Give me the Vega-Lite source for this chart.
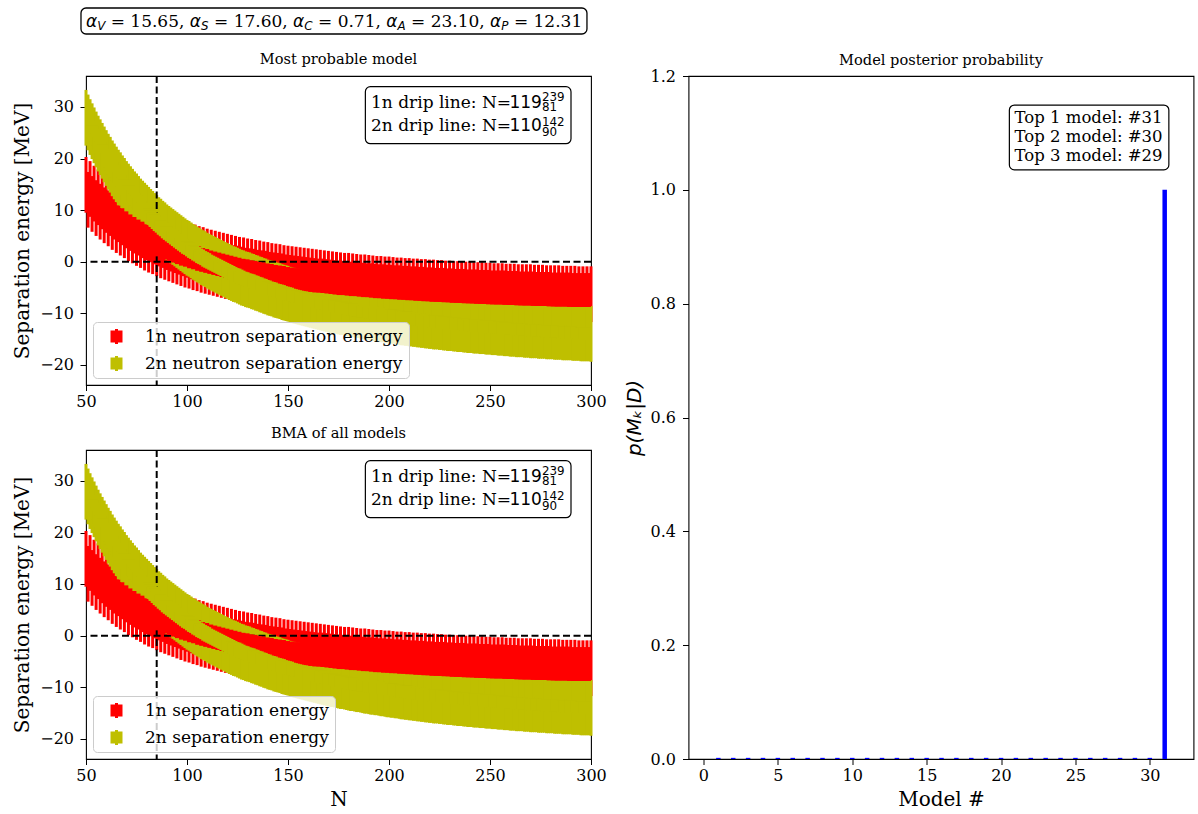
{
  "$schema": "https://vega.github.io/schema/vega-lite/v6.json",
  "background": "white",
  "padding": {"left": 12, "top": 6, "right": 1, "bottom": 4},
  "config": {
    "font": "DejaVu Serif",
    "view": {"stroke": "black", "strokeWidth": 1.1},
    "axis": {"domain": false, "grid": false, "tickColor": "black", "tickWidth": 1, "labelFont": "DejaVu Serif", "labelFontSize": 16, "labelColor": "black", "labelOverlap": false, "titleFont": "DejaVu Serif", "titleFontSize": 20, "titleFontWeight": "normal", "titleColor": "black"},
    "axisY": {"titlePadding": 7, "tickSize": 6, "labelPadding": 6.5},
    "axisX": {"titlePadding": 6, "tickSize": 5.5, "labelPadding": 3, "labelFlush": false},
    "title": {"font": "DejaVu Serif", "fontSize": 14.6, "fontWeight": "normal", "color": "black", "offset": 8},
    "legend": {"orient": "bottom-left", "offset": 7, "padding": 6, "fillColor": "rgba(255,255,255,0.8)", "strokeColor": "#cccccc", "strokeWidth": 1, "cornerRadius": 4, "labelFont": "DejaVu Serif", "labelFontSize": 17, "labelColor": "black", "labelLimit": 400, "symbolType": "M-0.8,-0.8H0.8V0.8H-0.8Z M-0.2,-1H0.2V1H-0.2Z", "symbolSize": 225, "symbolStrokeWidth": 0, "symbolOffset": 9, "labelOffset": 20, "rowPadding": 9}
  },
  "datasets": {
    "sep": [
      {"N":50,"a":14.9,"b":27.9,"e":5.4},{"N":51,"a":12.0,"b":27.0,"e":5.4},{"N":52,"a":14.1,"b":26.1,"e":5.4},{"N":53,"a":11.2,"b":25.3,"e":5.4},{"N":54,"a":13.2,"b":24.5,"e":5.4},
      {"N":55,"a":10.4,"b":23.7,"e":5.4},{"N":56,"a":12.5,"b":22.9,"e":5.4},{"N":57,"a":9.7,"b":22.2,"e":5.4},{"N":58,"a":11.7,"b":21.5,"e":5.4},{"N":59,"a":9.0,"b":20.8,"e":5.4},
      {"N":60,"a":11.0,"b":20.1,"e":5.4},{"N":61,"a":8.4,"b":19.4,"e":5.4},{"N":62,"a":10.4,"b":18.8,"e":5.4},{"N":63,"a":7.7,"b":18.1,"e":5.4},{"N":64,"a":9.7,"b":17.5,"e":5.4},
      {"N":65,"a":7.1,"b":16.9,"e":5.4},{"N":66,"a":9.2,"b":16.3,"e":5.4},{"N":67,"a":6.6,"b":15.8,"e":5.4},{"N":68,"a":8.6,"b":15.2,"e":5.4},{"N":69,"a":6.1,"b":14.7,"e":5.4},
      {"N":70,"a":8.0,"b":14.1,"e":5.4},{"N":71,"a":5.5,"b":13.6,"e":5.4},{"N":72,"a":7.5,"b":13.1,"e":5.4},{"N":73,"a":5.1,"b":12.6,"e":5.4},{"N":74,"a":7.0,"b":12.1,"e":5.4},
      {"N":75,"a":4.6,"b":11.7,"e":5.4},{"N":76,"a":6.6,"b":11.2,"e":5.4},{"N":77,"a":4.2,"b":10.7,"e":5.4},{"N":78,"a":6.1,"b":10.3,"e":5.4},{"N":79,"a":3.7,"b":9.9,"e":5.4},
      {"N":80,"a":5.7,"b":9.5,"e":5.4},{"N":81,"a":3.3,"b":9.1,"e":5.4},{"N":82,"a":5.3,"b":8.7,"e":5.4},{"N":83,"a":3.0,"b":8.3,"e":5.4},{"N":84,"a":4.9,"b":7.9,"e":5.4},
      {"N":85,"a":2.6,"b":7.5,"e":5.4},{"N":86,"a":4.5,"b":7.1,"e":5.4},{"N":87,"a":2.2,"b":6.8,"e":5.4},{"N":88,"a":4.2,"b":6.4,"e":5.4},{"N":89,"a":1.9,"b":6.1,"e":5.4},
      {"N":90,"a":3.8,"b":5.7,"e":5.4},{"N":91,"a":1.6,"b":5.4,"e":5.4},{"N":92,"a":3.5,"b":5.1,"e":5.4},{"N":93,"a":1.3,"b":4.8,"e":5.4},{"N":94,"a":3.2,"b":4.5,"e":5.4},
      {"N":95,"a":1.0,"b":4.2,"e":5.4},{"N":96,"a":2.9,"b":3.9,"e":5.4},{"N":97,"a":0.7,"b":3.6,"e":5.4},{"N":98,"a":2.6,"b":3.3,"e":5.4},{"N":99,"a":0.4,"b":3.0,"e":5.4},
      {"N":100,"a":2.3,"b":2.7,"e":5.4},{"N":101,"a":0.2,"b":2.5,"e":5.4},{"N":102,"a":2.0,"b":2.2,"e":5.4},{"N":103,"a":-0.1,"b":1.9,"e":5.4},{"N":104,"a":1.8,"b":1.7,"e":5.4},
      {"N":105,"a":-0.3,"b":1.4,"e":5.4},{"N":106,"a":1.5,"b":1.2,"e":5.4},{"N":107,"a":-0.6,"b":0.9,"e":5.4},{"N":108,"a":1.3,"b":0.7,"e":5.4},{"N":109,"a":-0.8,"b":0.5,"e":5.4},
      {"N":110,"a":1.0,"b":0.2,"e":5.4},{"N":111,"a":-1.0,"b":0.0,"e":5.4},{"N":112,"a":0.8,"b":-0.2,"e":5.4},{"N":113,"a":-1.2,"b":-0.4,"e":5.4},{"N":114,"a":0.6,"b":-0.6,"e":5.4},
      {"N":115,"a":-1.4,"b":-0.8,"e":5.4},{"N":116,"a":0.4,"b":-1.0,"e":5.4},{"N":117,"a":-1.6,"b":-1.2,"e":5.4},{"N":118,"a":0.2,"b":-1.4,"e":5.4},{"N":119,"a":-1.8,"b":-1.6,"e":5.4},
      {"N":120,"a":0.0,"b":-1.8,"e":5.4},{"N":121,"a":-2.0,"b":-2.0,"e":5.4},{"N":122,"a":-0.2,"b":-2.2,"e":5.4},{"N":123,"a":-2.2,"b":-2.4,"e":5.4},{"N":124,"a":-0.4,"b":-2.5,"e":5.4},
      {"N":125,"a":-2.3,"b":-2.7,"e":5.4},{"N":126,"a":-0.6,"b":-2.9,"e":5.4},{"N":127,"a":-2.5,"b":-3.1,"e":5.4},{"N":128,"a":-0.7,"b":-3.2,"e":5.4},{"N":129,"a":-2.7,"b":-3.4,"e":5.4},
      {"N":130,"a":-0.9,"b":-3.5,"e":5.4},{"N":131,"a":-2.8,"b":-3.6,"e":5.4},{"N":132,"a":-1.0,"b":-3.8,"e":5.4},{"N":133,"a":-2.9,"b":-3.9,"e":5.4},{"N":134,"a":-1.2,"b":-4.1,"e":5.4},
      {"N":135,"a":-3.1,"b":-4.2,"e":5.4},{"N":136,"a":-1.3,"b":-4.4,"e":5.4},{"N":137,"a":-3.2,"b":-4.5,"e":5.4},{"N":138,"a":-1.5,"b":-4.7,"e":5.4},{"N":139,"a":-3.3,"b":-4.8,"e":5.4},
      {"N":140,"a":-1.6,"b":-5.0,"e":5.4},{"N":141,"a":-3.5,"b":-5.1,"e":5.4},{"N":142,"a":-1.8,"b":-5.2,"e":5.4},{"N":143,"a":-3.6,"b":-5.4,"e":5.4},{"N":144,"a":-1.9,"b":-5.5,"e":5.4},
      {"N":145,"a":-3.7,"b":-5.6,"e":5.4},{"N":146,"a":-2.0,"b":-5.7,"e":5.4},{"N":147,"a":-3.8,"b":-5.9,"e":5.4},{"N":148,"a":-2.2,"b":-6.0,"e":5.4},{"N":149,"a":-4.0,"b":-6.1,"e":5.4},
      {"N":150,"a":-2.3,"b":-6.2,"e":5.4},{"N":151,"a":-4.1,"b":-6.4,"e":5.4},{"N":152,"a":-2.4,"b":-6.5,"e":5.4},{"N":153,"a":-4.2,"b":-6.6,"e":5.4},{"N":154,"a":-2.5,"b":-6.7,"e":5.4},
      {"N":155,"a":-4.3,"b":-6.8,"e":5.4},{"N":156,"a":-2.6,"b":-6.9,"e":5.4},{"N":157,"a":-4.4,"b":-7.0,"e":5.4},{"N":158,"a":-2.7,"b":-7.1,"e":5.4},{"N":159,"a":-4.5,"b":-7.2,"e":5.4},
      {"N":160,"a":-2.8,"b":-7.3,"e":5.4},{"N":161,"a":-4.6,"b":-7.4,"e":5.4},{"N":162,"a":-2.9,"b":-7.5,"e":5.4},{"N":163,"a":-4.7,"b":-7.6,"e":5.4},{"N":164,"a":-3.0,"b":-7.7,"e":5.4},
      {"N":165,"a":-4.8,"b":-7.8,"e":5.4},{"N":166,"a":-3.1,"b":-7.9,"e":5.4},{"N":167,"a":-4.8,"b":-8.0,"e":5.4},{"N":168,"a":-3.2,"b":-8.1,"e":5.4},{"N":169,"a":-4.9,"b":-8.2,"e":5.4},
      {"N":170,"a":-3.3,"b":-8.3,"e":5.4},{"N":171,"a":-5.0,"b":-8.4,"e":5.4},{"N":172,"a":-3.4,"b":-8.4,"e":5.4},{"N":173,"a":-5.1,"b":-8.5,"e":5.4},{"N":174,"a":-3.5,"b":-8.6,"e":5.4},
      {"N":175,"a":-5.2,"b":-8.7,"e":5.4},{"N":176,"a":-3.6,"b":-8.8,"e":5.4},{"N":177,"a":-5.3,"b":-8.8,"e":5.4},{"N":178,"a":-3.7,"b":-8.9,"e":5.4},{"N":179,"a":-5.3,"b":-9.0,"e":5.4},
      {"N":180,"a":-3.7,"b":-9.1,"e":5.4},{"N":181,"a":-5.4,"b":-9.2,"e":5.4},{"N":182,"a":-3.8,"b":-9.2,"e":5.4},{"N":183,"a":-5.5,"b":-9.3,"e":5.4},{"N":184,"a":-3.9,"b":-9.4,"e":5.4},
      {"N":185,"a":-5.5,"b":-9.4,"e":5.4},{"N":186,"a":-4.0,"b":-9.5,"e":5.4},{"N":187,"a":-5.6,"b":-9.6,"e":5.4},{"N":188,"a":-4.0,"b":-9.7,"e":5.4},{"N":189,"a":-5.7,"b":-9.7,"e":5.4},
      {"N":190,"a":-4.1,"b":-9.8,"e":5.4},{"N":191,"a":-5.7,"b":-9.9,"e":5.4},{"N":192,"a":-4.2,"b":-9.9,"e":5.4},{"N":193,"a":-5.8,"b":-10.0,"e":5.4},{"N":194,"a":-4.3,"b":-10.0,"e":5.4},
      {"N":195,"a":-5.9,"b":-10.1,"e":5.4},{"N":196,"a":-4.3,"b":-10.2,"e":5.4},{"N":197,"a":-5.9,"b":-10.2,"e":5.4},{"N":198,"a":-4.4,"b":-10.3,"e":5.4},{"N":199,"a":-6.0,"b":-10.4,"e":5.4},
      {"N":200,"a":-4.4,"b":-10.4,"e":5.4},{"N":201,"a":-6.0,"b":-10.5,"e":5.4},{"N":202,"a":-4.5,"b":-10.5,"e":5.4},{"N":203,"a":-6.1,"b":-10.6,"e":5.4},{"N":204,"a":-4.6,"b":-10.6,"e":5.4},
      {"N":205,"a":-6.1,"b":-10.7,"e":5.4},{"N":206,"a":-4.6,"b":-10.8,"e":5.4},{"N":207,"a":-6.2,"b":-10.8,"e":5.4},{"N":208,"a":-4.7,"b":-10.9,"e":5.4},{"N":209,"a":-6.2,"b":-10.9,"e":5.4},
      {"N":210,"a":-4.7,"b":-11.0,"e":5.4},{"N":211,"a":-6.3,"b":-11.0,"e":5.4},{"N":212,"a":-4.8,"b":-11.1,"e":5.4},{"N":213,"a":-6.3,"b":-11.1,"e":5.4},{"N":214,"a":-4.8,"b":-11.2,"e":5.4},
      {"N":215,"a":-6.4,"b":-11.2,"e":5.4},{"N":216,"a":-4.9,"b":-11.3,"e":5.4},{"N":217,"a":-6.4,"b":-11.3,"e":5.4},{"N":218,"a":-4.9,"b":-11.4,"e":5.4},{"N":219,"a":-6.5,"b":-11.4,"e":5.4},
      {"N":220,"a":-5.0,"b":-11.5,"e":5.4},{"N":221,"a":-6.5,"b":-11.5,"e":5.4},{"N":222,"a":-5.0,"b":-11.6,"e":5.4},{"N":223,"a":-6.6,"b":-11.6,"e":5.4},{"N":224,"a":-5.1,"b":-11.6,"e":5.4},
      {"N":225,"a":-6.6,"b":-11.7,"e":5.4},{"N":226,"a":-5.1,"b":-11.7,"e":5.4},{"N":227,"a":-6.6,"b":-11.8,"e":5.4},{"N":228,"a":-5.2,"b":-11.8,"e":5.4},{"N":229,"a":-6.7,"b":-11.9,"e":5.4},
      {"N":230,"a":-5.2,"b":-11.9,"e":5.4},{"N":231,"a":-6.7,"b":-11.9,"e":5.4},{"N":232,"a":-5.3,"b":-12.0,"e":5.4},{"N":233,"a":-6.8,"b":-12.0,"e":5.4},{"N":234,"a":-5.3,"b":-12.1,"e":5.4},
      {"N":235,"a":-6.8,"b":-12.1,"e":5.4},{"N":236,"a":-5.4,"b":-12.1,"e":5.4},{"N":237,"a":-6.8,"b":-12.2,"e":5.4},{"N":238,"a":-5.4,"b":-12.2,"e":5.4},{"N":239,"a":-6.9,"b":-12.3,"e":5.4},
      {"N":240,"a":-5.4,"b":-12.3,"e":5.4},{"N":241,"a":-6.9,"b":-12.3,"e":5.4},{"N":242,"a":-5.5,"b":-12.4,"e":5.4},{"N":243,"a":-6.9,"b":-12.4,"e":5.4},{"N":244,"a":-5.5,"b":-12.4,"e":5.4},
      {"N":245,"a":-7.0,"b":-12.5,"e":5.4},{"N":246,"a":-5.5,"b":-12.5,"e":5.4},{"N":247,"a":-7.0,"b":-12.5,"e":5.4},{"N":248,"a":-5.6,"b":-12.6,"e":5.4},{"N":249,"a":-7.0,"b":-12.6,"e":5.4},
      {"N":250,"a":-5.6,"b":-12.6,"e":5.4},{"N":251,"a":-7.1,"b":-12.7,"e":5.4},{"N":252,"a":-5.7,"b":-12.7,"e":5.4},{"N":253,"a":-7.1,"b":-12.7,"e":5.4},{"N":254,"a":-5.7,"b":-12.8,"e":5.4},
      {"N":255,"a":-7.1,"b":-12.8,"e":5.4},{"N":256,"a":-5.7,"b":-12.8,"e":5.4},{"N":257,"a":-7.1,"b":-12.9,"e":5.4},{"N":258,"a":-5.8,"b":-12.9,"e":5.4},{"N":259,"a":-7.2,"b":-12.9,"e":5.4},
      {"N":260,"a":-5.8,"b":-13.0,"e":5.4},{"N":261,"a":-7.2,"b":-13.0,"e":5.4},{"N":262,"a":-5.8,"b":-13.0,"e":5.4},{"N":263,"a":-7.2,"b":-13.1,"e":5.4},{"N":264,"a":-5.9,"b":-13.1,"e":5.4},
      {"N":265,"a":-7.3,"b":-13.1,"e":5.4},{"N":266,"a":-5.9,"b":-13.1,"e":5.4},{"N":267,"a":-7.3,"b":-13.2,"e":5.4},{"N":268,"a":-5.9,"b":-13.2,"e":5.4},{"N":269,"a":-7.3,"b":-13.2,"e":5.4},
      {"N":270,"a":-5.9,"b":-13.3,"e":5.4},{"N":271,"a":-7.3,"b":-13.3,"e":5.4},{"N":272,"a":-6.0,"b":-13.3,"e":5.4},{"N":273,"a":-7.4,"b":-13.3,"e":5.4},{"N":274,"a":-6.0,"b":-13.4,"e":5.4},
      {"N":275,"a":-7.4,"b":-13.4,"e":5.4},{"N":276,"a":-6.0,"b":-13.4,"e":5.4},{"N":277,"a":-7.4,"b":-13.4,"e":5.4},{"N":278,"a":-6.1,"b":-13.5,"e":5.4},{"N":279,"a":-7.4,"b":-13.5,"e":5.4},
      {"N":280,"a":-6.1,"b":-13.5,"e":5.4},{"N":281,"a":-7.5,"b":-13.5,"e":5.4},{"N":282,"a":-6.1,"b":-13.6,"e":5.4},{"N":283,"a":-7.5,"b":-13.6,"e":5.4},{"N":284,"a":-6.1,"b":-13.6,"e":5.4},
      {"N":285,"a":-7.5,"b":-13.6,"e":5.4},{"N":286,"a":-6.2,"b":-13.7,"e":5.4},{"N":287,"a":-7.5,"b":-13.7,"e":5.4},{"N":288,"a":-6.2,"b":-13.7,"e":5.4},{"N":289,"a":-7.5,"b":-13.7,"e":5.4},
      {"N":290,"a":-6.2,"b":-13.7,"e":5.4},{"N":291,"a":-7.6,"b":-13.8,"e":5.4},{"N":292,"a":-6.2,"b":-13.8,"e":5.4},{"N":293,"a":-7.6,"b":-13.8,"e":5.4},{"N":294,"a":-6.3,"b":-13.8,"e":5.4},
      {"N":295,"a":-7.6,"b":-13.9,"e":5.4},{"N":296,"a":-6.3,"b":-13.9,"e":5.4},{"N":297,"a":-7.6,"b":-13.9,"e":5.4},{"N":298,"a":-6.3,"b":-13.9,"e":5.4},{"N":299,"a":-7.6,"b":-13.9,"e":5.4},
      {"N":300,"a":-6.3,"b":-14.0,"e":5.4}
    ],
    "models": [
      {"m":1,"p":0.002},{"m":2,"p":0.002},{"m":3,"p":0.002},{"m":4,"p":0.002},{"m":5,"p":0.002},{"m":6,"p":0.002},{"m":7,"p":0.002},{"m":8,"p":0.002},
      {"m":9,"p":0.002},{"m":10,"p":0.002},{"m":11,"p":0.002},{"m":12,"p":0.002},{"m":13,"p":0.002},{"m":14,"p":0.002},{"m":15,"p":0.002},{"m":16,"p":0.002},
      {"m":17,"p":0.002},{"m":18,"p":0.002},{"m":19,"p":0.002},{"m":20,"p":0.002},{"m":21,"p":0.002},{"m":22,"p":0.002},{"m":23,"p":0.002},{"m":24,"p":0.002},
      {"m":25,"p":0.002},{"m":26,"p":0.002},{"m":27,"p":0.002},{"m":28,"p":0.002},{"m":29,"p":0.002},{"m":30,"p":0.002},{"m":31,"p":1.0}
    ]
  },
  "hconcat": [
    {
      "vconcat": [
        {
          "width": 505, "height": 309,
          "data": {"name": "sep"},
          "layer": [
            {"mark": {"type": "errorbar", "color": "#ff0000", "thickness": 3},
             "encoding": {"x": {"field": "N", "type": "quantitative", "scale": {"domain": [50, 300]}, "axis": {"values": [50, 100, 150, 200, 250, 300], "title": null}},
                          "y": {"field": "a", "type": "quantitative", "scale": {"domain": [-23.9, 36]}, "axis": {"values": [-20, -10, 0, 10, 20, 30]}, "title": "Separation energy [MeV]"},
                          "yError": {"field": "e"}}},
            {"mark": {"type": "errorbar", "color": "#bfbf00", "thickness": 3},
             "encoding": {"x": {"field": "N", "type": "quantitative", "scale": {"domain": [50, 300]}, "title": null}, "y": {"field": "b", "type": "quantitative", "scale": {"domain": [-23.9, 36]}, "title": "Separation energy [MeV]"}, "yError": {"field": "e"}}},
            {"data": {"values": [{}]}, "mark": {"type": "rule", "color": "black", "strokeWidth": 2, "strokeDash": [7, 3.5]}, "encoding": {"y": {"datum": 0, "scale": {"domain": [-23.9, 36]}, "title": "Separation energy [MeV]"}}},
            {"data": {"values": [{}]}, "mark": {"type": "rule", "color": "black", "strokeWidth": 2, "strokeDash": [7, 3.5]}, "encoding": {"x": {"datum": 85, "scale": {"domain": [50, 300]}, "title": null}}},
            {"mark": {"type": "point", "shape": "square", "filled": true, "size": 144, "opacity": 1, "strokeWidth": 0, "clip": true},
             "encoding": {"x": {"field": "N", "type": "quantitative", "scale": {"domain": [50, 300]}, "title": null}, "y": {"field": "a", "type": "quantitative", "scale": {"domain": [-23.9, 36]}, "title": "Separation energy [MeV]"},
                          "color": {"datum": "1n", "type": "nominal", "scale": {"domain": ["1n", "2n"], "range": ["#ff0000", "#bfbf00"]},
                                    "legend": {"title": null, "labelExpr": "datum.label == '1n' ? '1n neutron separation energy' : '2n neutron separation energy'"}}}},
            {"mark": {"type": "point", "shape": "square", "filled": true, "size": 144, "opacity": 1, "strokeWidth": 0, "clip": true},
             "encoding": {"x": {"field": "N", "type": "quantitative", "scale": {"domain": [50, 300]}, "title": null}, "y": {"field": "b", "type": "quantitative", "scale": {"domain": [-23.9, 36]}, "title": "Separation energy [MeV]"},
                          "color": {"datum": "2n", "type": "nominal"}}},
            {"data": {"values": [{}]}, "mark": {"type": "text", "align": "center", "baseline": "middle", "fontSize": 14.6, "font": "DejaVu Serif"},
             "encoding": {"x": {"datum": 175, "scale": {"domain": [50, 300]}, "title": null}, "y": {"datum": 39.1, "scale": {"domain": [-23.9, 36]}, "title": "Separation energy [MeV]"}, "text": {"datum": "Most probable model"}}},
            {"data": {"values": [{}]}, "mark": {"type": "rect", "fill": "white", "stroke": "black", "strokeWidth": 1.2, "cornerRadius": 5},
             "encoding": {"x": {"datum": 188.3, "scale": {"domain": [50, 300]}, "title": null}, "x2": {"datum": 290.1}, "y": {"datum": 33.93, "scale": {"domain": [-23.9, 36]}, "title": "Separation energy [MeV]"}, "y2": {"datum": 22.88}}},
            {"data": {"values": [{}]}, "mark": {"type": "text", "align": "left", "baseline": "alphabetic", "fontSize": 17, "font": "DejaVu Serif"},
             "encoding": {"x": {"datum": 191.1, "scale": {"domain": [50, 300]}, "title": null}, "y": {"datum": 29.86, "scale": {"domain": [-23.9, 36]}, "title": "Separation energy [MeV]"}, "text": {"datum": "1n drip line: N="}}},
            {"data": {"values": [{}]}, "mark": {"type": "text", "align": "left", "baseline": "alphabetic", "fontSize": 17, "font": "DejaVu Sans"},
             "encoding": {"x": {"datum": 259.6, "scale": {"domain": [50, 300]}, "title": null}, "y": {"datum": 29.86, "scale": {"domain": [-23.9, 36]}, "title": "Separation energy [MeV]"}, "text": {"datum": "119"}}},
            {"data": {"values": [{}]}, "mark": {"type": "text", "align": "left", "baseline": "alphabetic", "fontSize": 11.9, "font": "DejaVu Sans"},
             "encoding": {"x": {"datum": 275.7, "scale": {"domain": [50, 300]}, "title": null}, "y": {"datum": 31.08, "scale": {"domain": [-23.9, 36]}, "title": "Separation energy [MeV]"}, "text": {"datum": "239"}}},
            {"data": {"values": [{}]}, "mark": {"type": "text", "align": "left", "baseline": "alphabetic", "fontSize": 11.9, "font": "DejaVu Sans"},
             "encoding": {"x": {"datum": 275.7, "scale": {"domain": [50, 300]}, "title": null}, "y": {"datum": 29.22, "scale": {"domain": [-23.9, 36]}, "title": "Separation energy [MeV]"}, "text": {"datum": "81"}}},
            {"data": {"values": [{}]}, "mark": {"type": "text", "align": "left", "baseline": "alphabetic", "fontSize": 17, "font": "DejaVu Serif"},
             "encoding": {"x": {"datum": 191.1, "scale": {"domain": [50, 300]}, "title": null}, "y": {"datum": 25.34, "scale": {"domain": [-23.9, 36]}, "title": "Separation energy [MeV]"}, "text": {"datum": "2n drip line: N="}}},
            {"data": {"values": [{}]}, "mark": {"type": "text", "align": "left", "baseline": "alphabetic", "fontSize": 17, "font": "DejaVu Sans"},
             "encoding": {"x": {"datum": 259.6, "scale": {"domain": [50, 300]}, "title": null}, "y": {"datum": 25.34, "scale": {"domain": [-23.9, 36]}, "title": "Separation energy [MeV]"}, "text": {"datum": "110"}}},
            {"data": {"values": [{}]}, "mark": {"type": "text", "align": "left", "baseline": "alphabetic", "fontSize": 11.9, "font": "DejaVu Sans"},
             "encoding": {"x": {"datum": 275.7, "scale": {"domain": [50, 300]}, "title": null}, "y": {"datum": 26.37, "scale": {"domain": [-23.9, 36]}, "title": "Separation energy [MeV]"}, "text": {"datum": "142"}}},
            {"data": {"values": [{}]}, "mark": {"type": "text", "align": "left", "baseline": "alphabetic", "fontSize": 11.9, "font": "DejaVu Sans"},
             "encoding": {"x": {"datum": 275.7, "scale": {"domain": [50, 300]}, "title": null}, "y": {"datum": 24.37, "scale": {"domain": [-23.9, 36]}, "title": "Separation energy [MeV]"}, "text": {"datum": "90"}}},
            {"data": {"values": [{}]}, "mark": {"type": "rect", "fill": "white", "stroke": "black", "strokeWidth": 1.3, "cornerRadius": 5},
             "encoding": {"x": {"datum": 47.52, "scale": {"domain": [50, 300]}, "title": null}, "x2": {"datum": 298.0}, "y": {"datum": 49.18, "scale": {"domain": [-23.9, 36]}, "title": "Separation energy [MeV]"}, "y2": {"datum": 44.14}}},
            {"data": {"values": [{}]}, "mark": {"type": "text", "align": "left", "baseline": "alphabetic", "fontSize": 17, "font": "DejaVu Sans", "fontStyle": "italic"},
             "encoding": {"x": {"datum": 50.0, "scale": {"domain": [50, 300]}, "title": null}, "y": {"datum": 45.55, "scale": {"domain": [-23.9, 36]}, "title": "Separation energy [MeV]"}, "text": {"datum": "α"}}},
            {"data": {"values": [{}]}, "mark": {"type": "text", "align": "left", "baseline": "alphabetic", "fontSize": 11.9, "font": "DejaVu Sans", "fontStyle": "italic"},
             "encoding": {"x": {"datum": 55.54, "scale": {"domain": [50, 300]}, "title": null}, "y": {"datum": 44.88, "scale": {"domain": [-23.9, 36]}, "title": "Separation energy [MeV]"}, "text": {"datum": "V"}}},
            {"data": {"values": [{}]}, "mark": {"type": "text", "align": "left", "baseline": "alphabetic", "fontSize": 17, "font": "DejaVu Serif"},
             "encoding": {"x": {"datum": 62.22, "scale": {"domain": [50, 300]}, "title": null}, "y": {"datum": 45.55, "scale": {"domain": [-23.9, 36]}, "title": "Separation energy [MeV]"}, "text": {"datum": "= 15.65,"}}},
            {"data": {"values": [{}]}, "mark": {"type": "text", "align": "left", "baseline": "alphabetic", "fontSize": 17, "font": "DejaVu Sans", "fontStyle": "italic"},
             "encoding": {"x": {"datum": 101.39, "scale": {"domain": [50, 300]}, "title": null}, "y": {"datum": 45.55, "scale": {"domain": [-23.9, 36]}, "title": "Separation energy [MeV]"}, "text": {"datum": "α"}}},
            {"data": {"values": [{}]}, "mark": {"type": "text", "align": "left", "baseline": "alphabetic", "fontSize": 11.9, "font": "DejaVu Sans", "fontStyle": "italic"},
             "encoding": {"x": {"datum": 106.93, "scale": {"domain": [50, 300]}, "title": null}, "y": {"datum": 44.88, "scale": {"domain": [-23.9, 36]}, "title": "Separation energy [MeV]"}, "text": {"datum": "S"}}},
            {"data": {"values": [{}]}, "mark": {"type": "text", "align": "left", "baseline": "alphabetic", "fontSize": 17, "font": "DejaVu Serif"},
             "encoding": {"x": {"datum": 113.36, "scale": {"domain": [50, 300]}, "title": null}, "y": {"datum": 45.55, "scale": {"domain": [-23.9, 36]}, "title": "Separation energy [MeV]"}, "text": {"datum": "= 17.60,"}}},
            {"data": {"values": [{}]}, "mark": {"type": "text", "align": "left", "baseline": "alphabetic", "fontSize": 17, "font": "DejaVu Sans", "fontStyle": "italic"},
             "encoding": {"x": {"datum": 152.52, "scale": {"domain": [50, 300]}, "title": null}, "y": {"datum": 45.55, "scale": {"domain": [-23.9, 36]}, "title": "Separation energy [MeV]"}, "text": {"datum": "α"}}},
            {"data": {"values": [{}]}, "mark": {"type": "text", "align": "left", "baseline": "alphabetic", "fontSize": 11.9, "font": "DejaVu Sans", "fontStyle": "italic"},
             "encoding": {"x": {"datum": 158.07, "scale": {"domain": [50, 300]}, "title": null}, "y": {"datum": 44.88, "scale": {"domain": [-23.9, 36]}, "title": "Separation energy [MeV]"}, "text": {"datum": "C"}}},
            {"data": {"values": [{}]}, "mark": {"type": "text", "align": "left", "baseline": "alphabetic", "fontSize": 17, "font": "DejaVu Serif"},
             "encoding": {"x": {"datum": 164.85, "scale": {"domain": [50, 300]}, "title": null}, "y": {"datum": 45.55, "scale": {"domain": [-23.9, 36]}, "title": "Separation energy [MeV]"}, "text": {"datum": "= 0.71,"}}},
            {"data": {"values": [{}]}, "mark": {"type": "text", "align": "left", "baseline": "alphabetic", "fontSize": 17, "font": "DejaVu Sans", "fontStyle": "italic"},
             "encoding": {"x": {"datum": 198.66, "scale": {"domain": [50, 300]}, "title": null}, "y": {"datum": 45.55, "scale": {"domain": [-23.9, 36]}, "title": "Separation energy [MeV]"}, "text": {"datum": "α"}}},
            {"data": {"values": [{}]}, "mark": {"type": "text", "align": "left", "baseline": "alphabetic", "fontSize": 11.9, "font": "DejaVu Sans", "fontStyle": "italic"},
             "encoding": {"x": {"datum": 204.21, "scale": {"domain": [50, 300]}, "title": null}, "y": {"datum": 44.88, "scale": {"domain": [-23.9, 36]}, "title": "Separation energy [MeV]"}, "text": {"datum": "A"}}},
            {"data": {"values": [{}]}, "mark": {"type": "text", "align": "left", "baseline": "alphabetic", "fontSize": 17, "font": "DejaVu Serif"},
             "encoding": {"x": {"datum": 210.89, "scale": {"domain": [50, 300]}, "title": null}, "y": {"datum": 45.55, "scale": {"domain": [-23.9, 36]}, "title": "Separation energy [MeV]"}, "text": {"datum": "= 23.10,"}}},
            {"data": {"values": [{}]}, "mark": {"type": "text", "align": "left", "baseline": "alphabetic", "fontSize": 17, "font": "DejaVu Sans", "fontStyle": "italic"},
             "encoding": {"x": {"datum": 250.05, "scale": {"domain": [50, 300]}, "title": null}, "y": {"datum": 45.55, "scale": {"domain": [-23.9, 36]}, "title": "Separation energy [MeV]"}, "text": {"datum": "α"}}},
            {"data": {"values": [{}]}, "mark": {"type": "text", "align": "left", "baseline": "alphabetic", "fontSize": 11.9, "font": "DejaVu Sans", "fontStyle": "italic"},
             "encoding": {"x": {"datum": 255.59, "scale": {"domain": [50, 300]}, "title": null}, "y": {"datum": 44.88, "scale": {"domain": [-23.9, 36]}, "title": "Separation energy [MeV]"}, "text": {"datum": "P"}}},
            {"data": {"values": [{}]}, "mark": {"type": "text", "align": "left", "baseline": "alphabetic", "fontSize": 17, "font": "DejaVu Serif"},
             "encoding": {"x": {"datum": 261.83, "scale": {"domain": [50, 300]}, "title": null}, "y": {"datum": 45.55, "scale": {"domain": [-23.9, 36]}, "title": "Separation energy [MeV]"}, "text": {"datum": "= 12.31"}}}
          ]
        },
        {
          "width": 505, "height": 309,
          "title": "BMA of all models",
          "data": {"name": "sep"},
          "layer": [
            {"mark": {"type": "errorbar", "color": "#ff0000", "thickness": 3},
             "encoding": {"x": {"field": "N", "type": "quantitative", "scale": {"domain": [50, 300]}, "axis": {"values": [50, 100, 150, 200, 250, 300]}, "title": "N"},
                          "y": {"field": "a", "type": "quantitative", "scale": {"domain": [-23.9, 36]}, "axis": {"values": [-20, -10, 0, 10, 20, 30]}, "title": "Separation energy [MeV]"},
                          "yError": {"field": "e"}}},
            {"mark": {"type": "errorbar", "color": "#bfbf00", "thickness": 3},
             "encoding": {"x": {"field": "N", "type": "quantitative", "scale": {"domain": [50, 300]}, "title": "N"}, "y": {"field": "b", "type": "quantitative", "scale": {"domain": [-23.9, 36]}, "title": "Separation energy [MeV]"}, "yError": {"field": "e"}}},
            {"data": {"values": [{}]}, "mark": {"type": "rule", "color": "black", "strokeWidth": 2, "strokeDash": [7, 3.5]}, "encoding": {"y": {"datum": 0, "scale": {"domain": [-23.9, 36]}, "title": "Separation energy [MeV]"}}},
            {"data": {"values": [{}]}, "mark": {"type": "rule", "color": "black", "strokeWidth": 2, "strokeDash": [7, 3.5]}, "encoding": {"x": {"datum": 85, "scale": {"domain": [50, 300]}, "title": "N"}}},
            {"mark": {"type": "point", "shape": "square", "filled": true, "size": 144, "opacity": 1, "strokeWidth": 0, "clip": true},
             "encoding": {"x": {"field": "N", "type": "quantitative", "scale": {"domain": [50, 300]}, "title": "N"}, "y": {"field": "a", "type": "quantitative", "scale": {"domain": [-23.9, 36]}, "title": "Separation energy [MeV]"},
                          "color": {"datum": "1n", "type": "nominal", "scale": {"domain": ["1n", "2n"], "range": ["#ff0000", "#bfbf00"]},
                                    "legend": {"title": null, "labelExpr": "datum.label == '1n' ? '1n separation energy' : '2n separation energy'"}}}},
            {"mark": {"type": "point", "shape": "square", "filled": true, "size": 144, "opacity": 1, "strokeWidth": 0, "clip": true},
             "encoding": {"x": {"field": "N", "type": "quantitative", "scale": {"domain": [50, 300]}, "title": "N"}, "y": {"field": "b", "type": "quantitative", "scale": {"domain": [-23.9, 36]}, "title": "Separation energy [MeV]"},
                          "color": {"datum": "2n", "type": "nominal"}}},
            {"data": {"values": [{}]}, "mark": {"type": "rect", "fill": "white", "stroke": "black", "strokeWidth": 1.2, "cornerRadius": 5},
             "encoding": {"x": {"datum": 188.3, "scale": {"domain": [50, 300]}, "title": "N"}, "x2": {"datum": 290.1}, "y": {"datum": 33.93, "scale": {"domain": [-23.9, 36]}, "title": "Separation energy [MeV]"}, "y2": {"datum": 22.88}}},
            {"data": {"values": [{}]}, "mark": {"type": "text", "align": "left", "baseline": "alphabetic", "fontSize": 17, "font": "DejaVu Serif"},
             "encoding": {"x": {"datum": 191.1, "scale": {"domain": [50, 300]}, "title": "N"}, "y": {"datum": 29.86, "scale": {"domain": [-23.9, 36]}, "title": "Separation energy [MeV]"}, "text": {"datum": "1n drip line: N="}}},
            {"data": {"values": [{}]}, "mark": {"type": "text", "align": "left", "baseline": "alphabetic", "fontSize": 17, "font": "DejaVu Sans"},
             "encoding": {"x": {"datum": 259.6, "scale": {"domain": [50, 300]}, "title": "N"}, "y": {"datum": 29.86, "scale": {"domain": [-23.9, 36]}, "title": "Separation energy [MeV]"}, "text": {"datum": "119"}}},
            {"data": {"values": [{}]}, "mark": {"type": "text", "align": "left", "baseline": "alphabetic", "fontSize": 11.9, "font": "DejaVu Sans"},
             "encoding": {"x": {"datum": 275.7, "scale": {"domain": [50, 300]}, "title": "N"}, "y": {"datum": 31.08, "scale": {"domain": [-23.9, 36]}, "title": "Separation energy [MeV]"}, "text": {"datum": "239"}}},
            {"data": {"values": [{}]}, "mark": {"type": "text", "align": "left", "baseline": "alphabetic", "fontSize": 11.9, "font": "DejaVu Sans"},
             "encoding": {"x": {"datum": 275.7, "scale": {"domain": [50, 300]}, "title": "N"}, "y": {"datum": 29.22, "scale": {"domain": [-23.9, 36]}, "title": "Separation energy [MeV]"}, "text": {"datum": "81"}}},
            {"data": {"values": [{}]}, "mark": {"type": "text", "align": "left", "baseline": "alphabetic", "fontSize": 17, "font": "DejaVu Serif"},
             "encoding": {"x": {"datum": 191.1, "scale": {"domain": [50, 300]}, "title": "N"}, "y": {"datum": 25.34, "scale": {"domain": [-23.9, 36]}, "title": "Separation energy [MeV]"}, "text": {"datum": "2n drip line: N="}}},
            {"data": {"values": [{}]}, "mark": {"type": "text", "align": "left", "baseline": "alphabetic", "fontSize": 17, "font": "DejaVu Sans"},
             "encoding": {"x": {"datum": 259.6, "scale": {"domain": [50, 300]}, "title": "N"}, "y": {"datum": 25.34, "scale": {"domain": [-23.9, 36]}, "title": "Separation energy [MeV]"}, "text": {"datum": "110"}}},
            {"data": {"values": [{}]}, "mark": {"type": "text", "align": "left", "baseline": "alphabetic", "fontSize": 11.9, "font": "DejaVu Sans"},
             "encoding": {"x": {"datum": 275.7, "scale": {"domain": [50, 300]}, "title": "N"}, "y": {"datum": 26.37, "scale": {"domain": [-23.9, 36]}, "title": "Separation energy [MeV]"}, "text": {"datum": "142"}}},
            {"data": {"values": [{}]}, "mark": {"type": "text", "align": "left", "baseline": "alphabetic", "fontSize": 11.9, "font": "DejaVu Sans"},
             "encoding": {"x": {"datum": 275.7, "scale": {"domain": [50, 300]}, "title": "N"}, "y": {"datum": 24.37, "scale": {"domain": [-23.9, 36]}, "title": "Separation energy [MeV]"}, "text": {"datum": "90"}}}
          ]
        }
      ],
      "spacing": 65,
      "bounds": "flush",
      "resolve": {"scale": {"x": "independent", "y": "independent", "color": "independent"}, "legend": {"color": "independent"}}
    },
    {
      "width": 505, "height": 683,
      "title": {"text": "Model posterior probability", "offset": 0},
      "layer": [
        {"data": {"name": "models"},
         "mark": {"type": "bar", "width": 4.5, "color": "#0000ff"},
         "encoding": {"x": {"field": "m", "type": "quantitative", "scale": {"domain": [-0.67, 32.6]}, "axis": {"values": [0, 5, 10, 15, 20, 25, 30]}, "title": "Model #"},
                      "y": {"field": "p", "type": "quantitative", "scale": {"domain": [0, 1.2]}, "axis": {"values": [0, 0.2, 0.4, 0.6, 0.8, 1.0, 1.2], "format": ".1f", "titleFont": "DejaVu Sans", "titleFontStyle": "italic", "titlePadding": 6, "labelPadding": 7}, "title": "p(Mₖ|D)"}}},
        {"data": {"values": [{}]}, "mark": {"type": "rect", "fill": "white", "stroke": "black", "strokeWidth": 1.2, "cornerRadius": 5},
         "encoding": {"x": {"datum": 20.56, "scale": {"domain": [-0.67, 32.6]}, "title": "Model #"}, "x2": {"datum": 31.28}, "y": {"datum": 1.149, "scale": {"domain": [0, 1.2]}, "title": "p(Mₖ|D)"}, "y2": {"datum": 1.035}}},
        {"data": {"values": [{}]}, "mark": {"type": "text", "align": "left", "baseline": "alphabetic", "fontSize": 16.5, "font": "DejaVu Serif"},
         "encoding": {"x": {"datum": 20.91, "scale": {"domain": [-0.67, 32.6]}, "title": "Model #"}, "y": {"datum": 1.1174, "scale": {"domain": [0, 1.2]}, "title": "p(Mₖ|D)"}, "text": {"datum": "Top 1 model: #31"}}},
        {"data": {"values": [{}]}, "mark": {"type": "text", "align": "left", "baseline": "alphabetic", "fontSize": 16.5, "font": "DejaVu Serif"},
         "encoding": {"x": {"datum": 20.91, "scale": {"domain": [-0.67, 32.6]}, "title": "Model #"}, "y": {"datum": 1.084, "scale": {"domain": [0, 1.2]}, "title": "p(Mₖ|D)"}, "text": {"datum": "Top 2 model: #30"}}},
        {"data": {"values": [{}]}, "mark": {"type": "text", "align": "left", "baseline": "alphabetic", "fontSize": 16.5, "font": "DejaVu Serif"},
         "encoding": {"x": {"datum": 20.91, "scale": {"domain": [-0.67, 32.6]}, "title": "Model #"}, "y": {"datum": 1.0507, "scale": {"domain": [0, 1.2]}, "title": "p(Mₖ|D)"}, "text": {"datum": "Top 3 model: #29"}}}
      ]
    }
  ],
  "spacing": 16.5,
  "resolve": {"scale": {"x": "independent", "y": "independent", "color": "independent"}, "legend": {"color": "independent"}}
}
